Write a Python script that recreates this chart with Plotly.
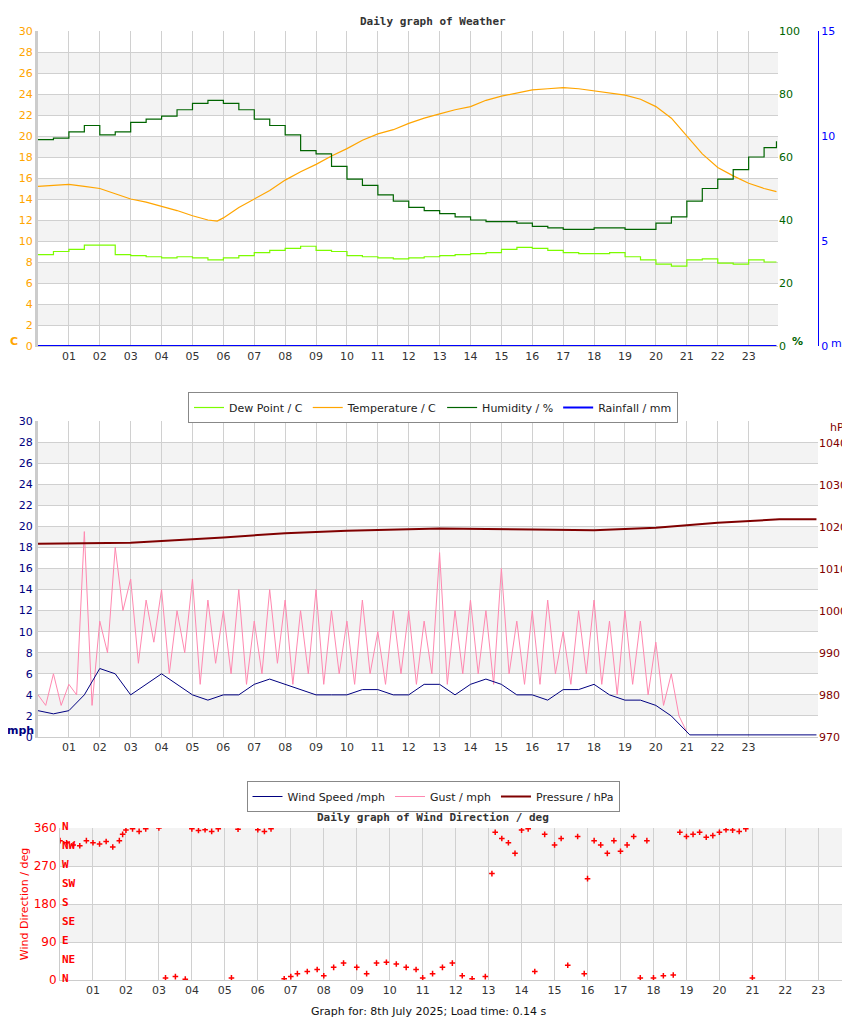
import plotly.graph_objects as go

W, H = 850, 1017

# --- top chart: temperature / dew point / humidity / rainfall (hourly readings)
wx_hours = [0, 0.5, 1, 1.5, 2, 2.5, 3, 3.5, 4, 4.5, 5, 5.5, 5.8, 6, 6.5, 7, 7.5, 8, 8.5, 9, 9.5, 10, 10.5, 11, 11.5, 12,
            12.5, 13, 13.5, 14, 14.5, 15, 15.5, 16, 16.5, 17, 17.5, 18, 18.5, 19, 19.5, 20, 20.5, 21, 21.5, 22, 22.5, 23, 23.5, 23.9]
temperature = [15.2, 15.3, 15.4, 15.2, 15.0, 14.5, 14.0, 13.7, 13.3, 12.9, 12.4, 12.0, 11.9, 12.2, 13.2, 14.0, 14.8, 15.8, 16.6, 17.3, 18.1, 18.8, 19.6, 20.2, 20.6, 21.2,
               21.7, 22.1, 22.5, 22.8, 23.4, 23.8, 24.1, 24.4, 24.5, 24.6, 24.5, 24.3, 24.1, 23.9, 23.5, 22.8, 21.7, 20.0, 18.3, 17.0, 16.2, 15.5, 15.0, 14.7]
dew_point = [8.7, 9.0, 9.2, 9.6, 9.6, 8.7, 8.6, 8.5, 8.4, 8.5, 8.4, 8.2, 8.2, 8.4, 8.6, 8.9, 9.1, 9.3, 9.5, 9.1, 9.0, 8.6, 8.5, 8.4, 8.3, 8.4,
             8.5, 8.6, 8.7, 8.8, 8.9, 9.2, 9.4, 9.3, 9.1, 8.9, 8.8, 8.8, 8.9, 8.5, 8.2, 7.8, 7.6, 8.2, 8.3, 7.9, 7.8, 8.2, 8.0, 8.0]
humidity = [65.5, 66, 68, 70, 67, 68, 71, 72, 73, 75, 77, 78, 78, 77, 75, 72, 70, 67, 62, 61, 57, 53, 51, 48, 46, 44,
            43, 42, 41, 40, 39.5, 39.5, 39, 38, 37.5, 37, 37, 37.5, 37.5, 37, 37, 39, 41, 46, 50, 53, 56, 60, 63, 65]
rainfall = [0] * len(wx_hours)

# --- middle chart: wind speed / gust / pressure
wind_hours = [0, 0.5, 1, 1.5, 2, 2.5, 3, 3.5, 4, 4.5, 5, 5.5, 6, 6.5, 7, 7.5, 8, 8.5, 9, 9.5, 10, 10.5, 11, 11.5, 12, 12.5, 13,
              13.5, 14, 14.5, 15, 15.5, 16, 16.5, 17, 17.5, 18, 18.5, 19, 19.5, 20, 20.5, 21, 21.1, 25.2]
wind_speed = [2.5, 2.2, 2.5, 4, 6.5, 6, 4, 5, 6, 5, 4, 3.5, 4, 4, 5, 5.5, 5, 4.5, 4, 4, 4, 4.5, 4.5, 4, 4, 5, 5,
              4, 5, 5.5, 5, 4, 4, 3.5, 4.5, 4.5, 5, 4, 3.5, 3.5, 3, 2, 0.5, 0.2, 0.2]
gust_hours = [i * 0.25 for i in range(85)]
gust = [4, 3, 6, 3, 5, 4, 19.5, 3,
        11, 8, 18, 12, 15, 7, 13, 9,
        14, 6, 12, 8, 15, 5, 13, 7,
        12, 6, 14, 5, 11, 6, 14, 7,
        13, 5, 12, 6, 14, 5, 12, 6,
        11, 5, 13, 6, 10, 5, 12, 6,
        12, 5, 11, 6, 17.5, 5, 12, 6,
        13, 6, 12, 5, 16, 6, 11, 5,
        12, 5, 13, 6, 10, 5, 12, 6,
        13, 5, 11, 4, 12, 5, 11, 4,
        9, 3, 6, 2, 0.5]
press_hours = [0, 3, 6, 8, 10, 13, 16, 18, 20, 22, 24, 25.2]
pressure = [1016, 1016.2, 1017.5, 1018.5, 1019.1, 1019.6, 1019.4, 1019.2, 1019.8, 1021, 1021.8, 1021.8]

# --- bottom chart: wind direction
dir_hours = [0, 0.2, 0.4, 0.6, 0.8, 1.0, 1.2, 1.4, 1.6, 1.8, 1.9, 2.0, 2.2, 2.4, 2.6, 3.0, 3.2, 3.5, 3.8, 4.0, 4.2, 4.4, 4.6,
             4.8, 5.2, 5.4, 6.0, 6.2, 6.4, 6.8, 7.0, 7.2, 7.5, 7.8, 8.0, 8.3, 8.6, 9.0, 9.3, 9.6, 9.9, 10.2, 10.5, 10.8,
             11.0, 11.3, 11.6, 11.9, 12.2, 12.5, 12.9, 13.1, 13.2, 13.4, 13.6, 13.8, 14.0, 14.2, 14.4, 14.7, 15.0, 15.2,
             15.4, 15.7, 15.9, 16.0, 16.2, 16.4, 16.6, 16.8, 17.0, 17.2, 17.4, 17.6, 17.8, 18.0, 18.3, 18.6, 18.8, 19.0,
             19.2, 19.4, 19.6, 19.8, 20.0, 20.2, 20.4, 20.6, 20.8, 21.0]
dir_deg = [330, 325, 320, 318, 330, 325, 322, 328, 315, 330, 345, 355, 358, 352, 358, 360, 5, 8, 2, 358, 354, 356, 352,
           358, 5, 357, 356, 352, 358, 3, 8, 15, 20, 25, 10, 30, 40, 30, 15, 40, 42, 38, 30, 25,
           5, 15, 30, 40, 10, 3, 8, 252, 350, 335, 325, 300, 355, 358, 20, 345, 320, 335,
           35, 340, 15, 240, 330, 320, 300, 330, 305, 320, 340, 5, 330, 5, 10, 12, 350, 340,
           345, 350, 338, 342, 350, 356, 355, 352, 358, 5]
compass = ["N", "NE", "E", "SE", "S", "SW", "W", "NW", "N"]
hour_ticks = [f"{h:02d}" for h in range(1, 24)]


def px_x(p):
    return p / W


def px_y(p):
    return 1 - p / H


fig = go.Figure()
line_w = 1.2
fig.add_trace(go.Scatter(x=wx_hours, y=dew_point, name="Dew Point / C", line=dict(color="#7cfc00", width=line_w, shape="hv"), legend="legend"))
fig.add_trace(go.Scatter(x=wx_hours, y=temperature, name="Temperature / C", line=dict(color="orange", width=line_w), legend="legend"))
fig.add_trace(go.Scatter(x=wx_hours, y=humidity, name="Humidity / %", yaxis="y2", line=dict(color="darkgreen", width=line_w, shape="hv"), legend="legend"))
fig.add_trace(go.Scatter(x=wx_hours, y=rainfall, name="Rainfall / mm", yaxis="y3", line=dict(color="blue", width=2), legend="legend"))

fig.add_trace(go.Scatter(x=gust_hours, y=gust, name="Gust / mph", mode="lines", xaxis="x2", yaxis="y4",
                         line=dict(color="#ff88b0", width=1), legend="legend2", legendrank=2))
fig.add_trace(go.Scatter(x=wind_hours, y=wind_speed, name="Wind Speed /mph", mode="lines", xaxis="x2", yaxis="y4",
                         line=dict(color="navy", width=1), legend="legend2", legendrank=1))
fig.add_trace(go.Scatter(x=press_hours, y=pressure, name="Pressure / hPa", mode="lines", xaxis="x2", yaxis="y5",
                         line=dict(color="maroon", width=2), legend="legend2", legendrank=3))

fig.add_trace(go.Scatter(x=dir_hours, y=dir_deg, mode="markers", xaxis="x3", yaxis="y6", showlegend=False,
                         marker=dict(symbol="cross-thin", size=4, line=dict(color="red", width=1.5))))

# striped bands
for ya, xa, lo_list, step in [("y", "x", [2, 6, 10, 14, 18, 22, 26], 2), ("y4", "x2", [2, 6, 10, 14, 18, 22, 26], 2),
                             ("y6", "x3", [90, 270], 90)]:
    for lo in lo_list:
        fig.add_shape(type="rect", xref=f"{xa} domain", yref=ya, x0=0, x1=1, y0=lo, y1=lo + step,
                      fillcolor="#f3f3f3", line_width=0, layer="below")

font = dict(family="DejaVu Sans", size=11)
grid = dict(showgrid=True, gridcolor="#d0d0d0", gridwidth=1, zeroline=False, automargin=False)
xcommon = dict(tickmode="array", tickvals=list(range(1, 24)), ticktext=hour_ticks, ticks="",
               tickfont=dict(size=11, color="#333"), showline=True, linecolor="#ccc", **grid)
rcommon = dict(showgrid=False, zeroline=False, automargin=False)

fig.update_layout(
    width=W, height=H, margin=dict(l=0, r=0, t=0, b=0), plot_bgcolor="white", paper_bgcolor="white", font=font,
    xaxis=dict(domain=[px_x(30), px_x(770)], range=[0, 23.95], anchor="y", **xcommon),
    yaxis=dict(domain=[px_y(338), px_y(23)], range=[0, 30], dtick=2, tickfont=dict(color="orange"), **grid,
               showline=True, linecolor="#ccc", linewidth=3),
    yaxis2=dict(overlaying="y", side="right", anchor="x", range=[0, 100], dtick=20, tickfont=dict(color="darkgreen"), **rcommon),
    yaxis3=dict(overlaying="y", side="right", anchor="free", position=px_x(810), range=[0, 15], dtick=5,
                showline=True, linecolor="blue", tickfont=dict(color="blue"), **rcommon),
    xaxis2=dict(domain=[px_x(30), px_x(810)], range=[0, 25.25], anchor="y4", **xcommon),
    yaxis4=dict(domain=[px_y(729), px_y(413)], range=[0, 30], dtick=2, anchor="x2", tickfont=dict(color="navy"), **grid,
                showline=True, linecolor="#ccc", linewidth=3),
    yaxis5=dict(overlaying="y4", side="right", anchor="x2", range=[970, 1045.2], dtick=10,
                tickfont=dict(color="maroon"), **rcommon),
    xaxis3=dict(domain=[px_x(52), px_x(840)], range=[0, 23.9], anchor="y6", **xcommon),
    yaxis6=dict(domain=[px_y(972), px_y(820)], range=[0, 360], tickvals=[0, 90, 180, 270, 360], anchor="x3",
                tickfont=dict(color="red", size=12), title=dict(text="Wind Direction / deg", font=dict(color="red", size=11), standoff=2),
                **grid, showline=True, linecolor="#ccc"),
    legend=dict(orientation="h", x=0.5, xanchor="center", y=px_y(384), yanchor="top", bordercolor="#888", borderwidth=1,
                font=dict(size=11, color="#222"), bgcolor="white", traceorder="normal"),
    legend2=dict(orientation="h", x=0.5, xanchor="center", y=px_y(773), yanchor="top", bordercolor="#888", borderwidth=1,
                 font=dict(size=11, color="#222"), bgcolor="white", traceorder="normal"),
)

ann = [
    dict(text="<b>Daily graph of Weather</b>", x=0.5, y=px_y(13), font=dict(family="DejaVu Sans Mono", size=11, color="#333")),
    dict(text="<b>Daily graph of Wind Direction / deg</b>", x=px_x(425), y=px_y(809), font=dict(family="DejaVu Sans Mono", size=11, color="#333")),
    dict(text="Graph for: 8th July 2025; Load time: 0.14 s", x=px_x(421), y=px_y(1003), font=dict(size=11, color="#111")),
    dict(text="<b>C</b>", x=px_x(6), y=px_y(333), font=dict(size=11, color="orange")),
    dict(text="<b>%</b>", x=px_x(789), y=px_y(333), font=dict(size=11, color="darkgreen")),
    dict(text="mm", x=px_x(846), xanchor="right", y=px_y(335), font=dict(size=11, color="blue")),
    dict(text="<b>mph</b>", x=px_x(12), y=px_y(722), font=dict(size=11, color="navy")),
    dict(text="hPa", x=px_x(832), y=px_y(419), font=dict(size=11, color="maroon")),
]
for i, c in enumerate(compass):
    ann.append(dict(text=f"<b>{c}</b>", x=px_x(52), xanchor="left", y=px_y(970 - i * 19), yanchor="middle",
                    font=dict(family="DejaVu Sans Mono", size=11, color="red")))
for a in ann:
    a.setdefault("xanchor", "center")
    a.setdefault("yanchor", "middle")
    fig.add_annotation(xref="paper", yref="paper", showarrow=False, **a)

fig.write_html("out.html")
